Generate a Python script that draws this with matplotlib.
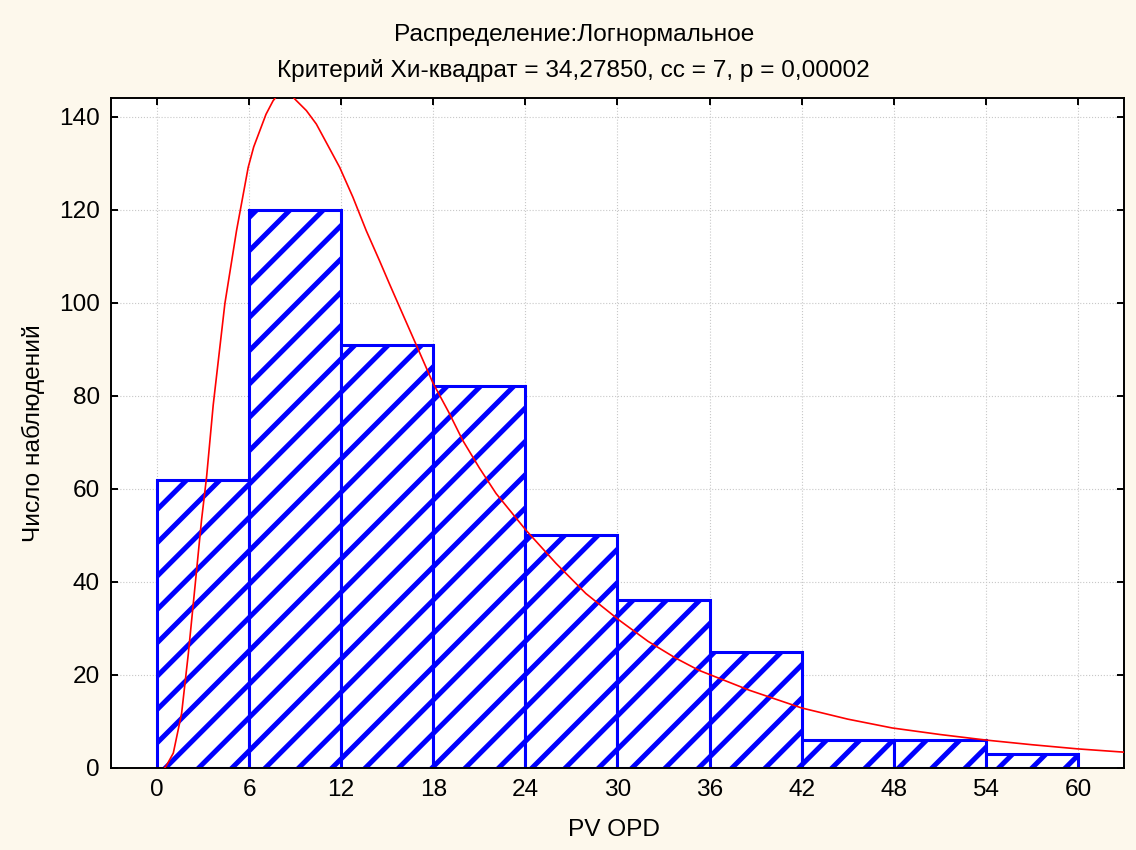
import matplotlib
matplotlib.use("Agg")
import matplotlib.pyplot as plt

# ─── Données ─────────────────────────────────────────────────────────────────
bornes = [0, 6, 12, 18, 24, 30, 36, 42, 48, 54]
effectifs = [62, 120, 91, 82, 50, 36, 25, 6, 6, 3]

# courbe lognormale
courbe_x = [0.5, 0.63, 1.06, 1.6, 2.04, 2.47, 2.9, 3.23, 3.66, 4.42, 5.18,
            5.94, 6.3, 6.7, 7.1, 7.56, 7.9, 8.3, 8.6, 8.97, 9.73, 10.38,
            11.1, 11.9, 12.76, 13.63, 14.5, 15.15, 16.0, 16.88, 17.97,
            19.0, 19.92, 21.0, 22.09, 24.04, 25.99, 27.94, 30.1, 32.0,
            33.8, 35.3, 38.6, 42.0, 45.0, 47.9, 51.0, 54.0, 57.0, 60.0, 63.0]
courbe_y = [0.0, 0.6, 3.2, 11.7, 24.6, 38.9, 53.3, 62.6, 78.0, 99.8, 115.5,
            129.1, 133.5, 137.0, 140.5, 143.4, 144.8, 145.4, 145.2, 143.8,
            141.3, 138.4, 134.0, 129.1, 122.7, 115.5, 109.0, 104.0, 97.6,
            91.0, 82.8, 76.5, 70.4, 64.5, 59.0, 51.1, 44.0, 37.5, 31.8, 27.2,
            23.6, 21.0, 16.7, 12.9, 10.5, 8.6, 7.2, 6.0, 5.0, 4.1, 3.4]

ticks_x = [0, 6, 12, 18, 24, 30, 36, 42, 48, 54, 60]
ticks_y = [0, 20, 40, 60, 80, 100, 120, 140]

titre1 = "Распределение:Логнормальное"
titre2 = "Критерий Хи-квадрат = 34,27850, сс = 7, p = 0,00002"

# ─── Style ───────────────────────────────────────────────────────────────────
plt.rcParams["font.family"] = ["Liberation Sans", "DejaVu Sans"]
plt.rcParams["hatch.linewidth"] = 1.8
taille = 8.8

fig = plt.figure(figsize=(5.68, 4.25), dpi=200, facecolor="#FDF8EC")
ax = fig.add_axes([0.0977, 0.0965, 0.8917, 0.7882])
ax.set_facecolor("white")

ax.bar(bornes, effectifs, width=6, align="edge", color="white",
       edgecolor="#0000FF", hatch="//", linewidth=1.1, zorder=2)
ax.plot(courbe_x, courbe_y, color="#FF0000", linewidth=0.6, zorder=3)

ax.set_xlim(-3, 63)
ax.set_ylim(0, 144)
ax.set_xticks(ticks_x)
ax.set_yticks(ticks_y)
ax.tick_params(direction="in", length=2.5, width=0.7, labelsize=taille,
               top=True, right=True, pad=4, colors="black")
ax.grid(True, linestyle=":", color="#C8C8C8", linewidth=0.4, zorder=0)
for s in ax.spines.values():
    s.set_linewidth(0.7)

fig.text(0.505, 0.9588, titre1, ha="center", va="center", fontsize=taille)
fig.text(0.505, 0.9176, titre2, ha="center", va="center", fontsize=taille)
fig.text(0.54, 0.0235, "PV OPD", ha="center", va="center", fontsize=taille)
fig.text(0.029, 0.49, "Число наблюдений", ha="center", va="center",
         rotation=90, fontsize=taille)

fig.savefig("out.png", dpi=200, facecolor=fig.get_facecolor())
